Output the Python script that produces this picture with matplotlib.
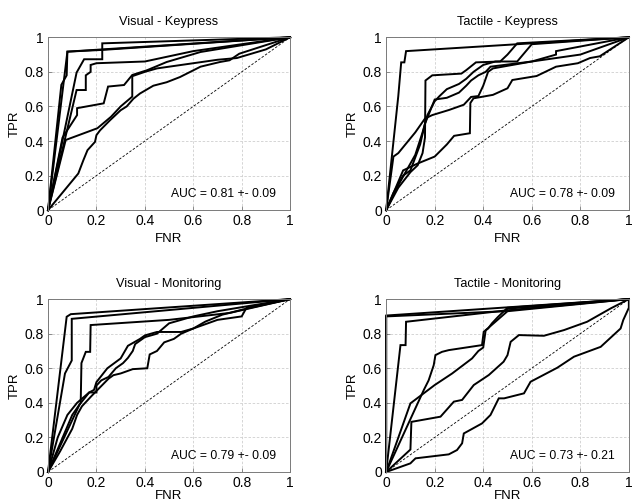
"""
ROC curves per subject for the four condition/task combinations.
"""
import matplotlib
matplotlib.use("Agg")
import matplotlib.pyplot as plt

plt.rcParams["font.family"] = ["Liberation Sans", "DejaVu Sans"]

# ---- data (FNR, TPR) ----
titles = ["Visual - Keypress", "Tactile - Keypress",
          "Visual - Monitoring", "Tactile - Monitoring"]
auc_labels = ["AUC = 0.81 +- 0.09", "AUC = 0.78 +- 0.09",
              "AUC = 0.79 +- 0.09", "AUC = 0.73 +- 0.21"]
tick_vals = [0, 0.2, 0.4, 0.6, 0.8, 1]
tick_labels = ["0", "0.2", "0.4", "0.6", "0.8", "1"]

# Visual - Keypress
vk_x = [
    [0, 0.055, 0.077, 0.08, 1],
    [0, 0.08, 0.224, 1],
    [0, 0.118, 0.149, 0.224, 0.224, 1],
    [0, 0.118, 0.156, 0.156, 0.176, 0.176, 0.2, 0.4, 0.5, 0.6, 1],
    [0, 0.06, 0.12, 0.12, 0.23, 0.248, 0.314, 0.348, 0.41, 0.49, 0.63, 1],
    [0, 0.073, 0.204, 0.26, 0.3, 0.348, 0.348, 0.4, 0.45, 0.5, 0.6, 0.7, 0.78, 0.9, 1],
    [0, 0.125, 0.146, 0.163, 0.194, 0.2, 0.215, 0.256, 0.3, 0.325, 0.353, 0.38,
     0.435, 0.49, 0.545, 0.63, 0.71, 0.75, 0.79, 1],
]
vk_y = [
    [0, 0.725, 0.78, 0.917, 1],
    [0, 0.917, 0.927, 1],
    [0, 0.796, 0.873, 0.873, 0.965, 1],
    [0, 0.695, 0.695, 0.78, 0.80, 0.84, 0.85, 0.86, 0.89, 0.92, 1],
    [0, 0.42, 0.55, 0.59, 0.618, 0.715, 0.724, 0.782, 0.81, 0.857, 0.915, 1],
    [0, 0.406, 0.474, 0.54, 0.6, 0.657, 0.775, 0.8, 0.82, 0.83, 0.85, 0.87, 0.88, 0.93, 1],
    [0, 0.212, 0.289, 0.347, 0.395, 0.434, 0.462, 0.52, 0.578, 0.6, 0.645, 0.675,
     0.72, 0.74, 0.77, 0.83, 0.857, 0.867, 0.905, 1],
]

# Tactile - Keypress
tk_x = [
    [0, 0.05, 0.062, 0.075, 0.082, 1],
    [0, 0.05, 0.1, 0.13, 0.15, 0.16, 0.162, 0.19, 0.31, 0.33, 0.37, 0.47, 0.5, 0.54, 1],
    [0, 0.03, 0.05, 0.12, 0.16, 0.19, 0.26, 0.32, 0.35, 0.38, 0.4, 0.42, 0.44, 0.6, 0.8, 1],
    [0, 0.04, 0.08, 0.12, 0.15, 0.17, 0.2, 0.22, 0.25, 0.3, 0.33, 0.36, 0.4, 0.45,
     0.54, 0.6, 1],
    [0, 0.03, 0.07, 0.1, 0.14, 0.16, 0.2, 0.25, 0.3, 0.33, 0.35, 0.38, 0.41, 0.43,
     0.6, 0.7, 0.7, 1],
    [0, 0.07, 0.13, 0.2, 0.25, 0.28, 0.345, 0.347, 0.36, 0.44, 0.5, 0.52, 0.62, 0.7,
     0.79, 0.84, 0.88, 1],
]
tk_y = [
    [0, 0.66, 0.855, 0.855, 0.92, 1],
    [0, 0.13, 0.22, 0.26, 0.33, 0.42, 0.75, 0.78, 0.79, 0.81, 0.855, 0.86, 0.9, 0.965, 1],
    [0, 0.31, 0.33, 0.45, 0.53, 0.55, 0.58, 0.61, 0.655, 0.66, 0.72, 0.8, 0.82, 0.86, 0.9, 1],
    [0, 0.12, 0.22, 0.32, 0.45, 0.55, 0.63, 0.66, 0.7, 0.73, 0.76, 0.8, 0.84, 0.86,
     0.86, 0.96, 1],
    [0, 0.1, 0.2, 0.23, 0.38, 0.5, 0.64, 0.65, 0.68, 0.72, 0.75, 0.78, 0.8, 0.83,
     0.86, 0.9, 0.92, 1],
    [0, 0.23, 0.27, 0.31, 0.38, 0.43, 0.445, 0.62, 0.647, 0.667, 0.705, 0.753, 0.776,
     0.83, 0.85, 0.88, 0.89, 1],
]

# Visual - Monitoring
vm_x = [
    [0, 0.077, 0.094, 1],
    [0, 0.07, 0.098, 0.098, 1],
    [0, 0.1, 0.135, 0.138, 0.156, 0.174, 0.176, 0.5, 0.75, 1],
    [0, 0.05, 0.1, 0.13, 0.17, 0.19, 0.2, 0.245, 0.3, 0.33, 0.38, 0.4, 0.45, 0.55,
     0.6, 0.7, 0.8, 0.82, 1],
    [0, 0.05, 0.1, 0.12, 0.14, 0.18, 0.25, 0.27, 0.3, 0.35, 0.41, 0.42, 0.45, 0.48,
     0.52, 0.55, 0.6, 0.65, 0.72, 0.82, 1],
    [0, 0.04, 0.08, 0.12, 0.17, 0.2, 0.2, 0.22, 0.25, 0.28, 0.31, 0.33, 0.35, 0.36,
     0.4, 0.45, 0.5, 0.6, 0.7, 1],
]
vm_y = [
    [0, 0.898, 0.913, 1],
    [0, 0.57, 0.645, 0.886, 1],
    [0, 0.33, 0.4, 0.63, 0.695, 0.695, 0.85, 0.88, 0.92, 1],
    [0, 0.15, 0.3, 0.39, 0.46, 0.475, 0.52, 0.6, 0.657, 0.73, 0.77, 0.79, 0.81, 0.81,
     0.83, 0.88, 0.9, 0.95, 1],
    [0, 0.12, 0.25, 0.33, 0.38, 0.44, 0.54, 0.56, 0.57, 0.595, 0.6, 0.68, 0.7, 0.75,
     0.77, 0.8, 0.83, 0.87, 0.91, 0.945, 1],
    [0, 0.2, 0.33, 0.4, 0.46, 0.46, 0.5, 0.53, 0.55, 0.6, 0.63, 0.66, 0.7, 0.74,
     0.78, 0.8, 0.86, 0.9, 0.93, 1],
]

# Tactile - Monitoring
tm_x = [
    [0, 0, 1],
    [0, 0, 0.49, 0.5, 1],
    [0, 0.059, 0.08, 0.082, 0.49, 1],
    [0, 0.1, 0.104, 0.224, 0.279, 0.313, 0.361, 0.423, 0.484, 0.5, 0.513, 0.547,
     0.65, 0.733, 0.828, 0.925, 1],
    [0, 0.155, 0.175, 0.196, 0.203, 0.23, 0.258, 0.395, 0.402, 0.42, 0.436, 0.46, 0.5, 1],
    [0, 0.1, 0.2, 0.272, 0.354, 0.38, 0.4, 0.41, 0.5, 1],
    [0, 0.1, 0.107, 0.121, 0.258, 0.292, 0.313, 0.32, 0.395, 0.43, 0.464, 0.486,
     0.568, 0.595, 0.705, 0.774, 0.884, 0.966, 0.977, 1, 1],
]
tm_y = [
    [0, 0.905, 1],
    [0, 0.9, 0.93, 0.945, 1],
    [0, 0.734, 0.734, 0.869, 0.934, 1],
    [0, 0.13, 0.29, 0.32, 0.407, 0.417, 0.503, 0.561, 0.638, 0.676, 0.753, 0.792,
     0.788, 0.821, 0.869, 0.946, 1],
    [0, 0.474, 0.53, 0.618, 0.676, 0.695, 0.705, 0.734, 0.811, 0.83, 0.86, 0.896, 0.95, 1],
    [0, 0.397, 0.503, 0.57, 0.657, 0.7, 0.72, 0.82, 0.93, 1],
    [0, 0.05, 0.06, 0.079, 0.102, 0.127, 0.166, 0.223, 0.281, 0.33, 0.426, 0.426,
     0.455, 0.522, 0.603, 0.667, 0.724, 0.83, 0.879, 0.95, 1],
]

panels_x = [vk_x, tk_x, vm_x, tm_x]
panels_y = [vk_y, tk_y, vm_y, tm_y]

# axes rectangles in figure fractions (left, bottom, width, height)
rects = [
    (0.076, 0.583, 0.383, 0.343),
    (0.611, 0.583, 0.384, 0.343),
    (0.076, 0.0635, 0.383, 0.343),
    (0.611, 0.0635, 0.384, 0.343),
]

fig = plt.figure(figsize=(6.32, 5.04), dpi=100)

for i in range(4):
    ax = fig.add_axes(rects[i])
    for xs, ys in zip(panels_x[i], panels_y[i]):
        ax.plot(xs, ys, color="black", lw=1.4, solid_joinstyle="miter", clip_on=False)
    # chance line
    ax.plot([0, 1], [0, 1], color="black", lw=0.6, ls=(0, (3, 2)))

    ax.set_xlim(0, 1)
    ax.set_ylim(0, 1)
    ax.set_xticks(tick_vals)
    ax.set_xticklabels(tick_labels)
    ax.set_yticks(tick_vals)
    ax.set_yticklabels(tick_labels)
    ax.grid(True, color="#cfcfcf", ls=(0, (3, 2)), lw=0.6)
    ax.set_axisbelow(True)
    for sp in ax.spines.values():
        sp.set_color("#7a7a7a")
        sp.set_linewidth(0.7)
    ax.tick_params(direction="in", length=3, width=0.6, color="#7a7a7a",
                   labelsize=10, pad=3)
    ax.set_title(titles[i], fontsize=9.2, pad=9)
    # bottom row sits right at the figure edge, keep its label inside
    ax.set_xlabel("FNR", fontsize=9.5, labelpad=3 if i < 2 else 0)
    ax.set_ylabel("TPR", fontsize=9.5, labelpad=3)
    ax.text(0.51, 0.092, auc_labels[i], fontsize=8.7, ha="left", va="center")

fig.savefig("out.png", dpi=100)
